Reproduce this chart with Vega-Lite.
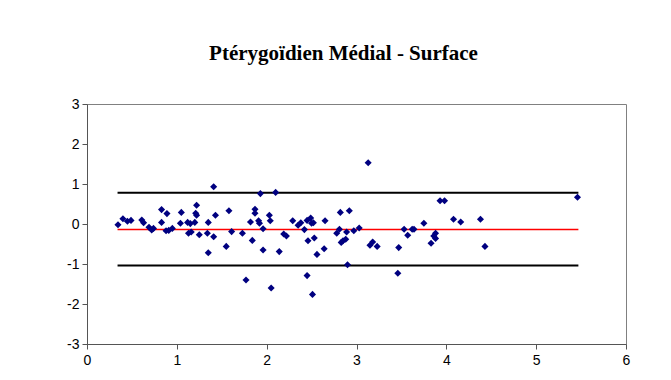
{
  "$schema": "https://vega.github.io/schema/vega-lite/v6.json",
  "autosize": "none",
  "width": 539,
  "height": 240,
  "padding": {"left": 87, "top": 104, "right": 45, "bottom": 36},
  "background": "white",
  "title": {
    "text": "Ptérygoïdien Médial - Surface",
    "font": "Liberation Serif",
    "fontSize": 21,
    "fontWeight": "bold",
    "color": "black",
    "anchor": "middle",
    "dx": -13,
    "offset": 33
  },
  "config": {
    "view": {"stroke": "#808080", "strokeWidth": 1},
    "axis": {
      "grid": false,
      "title": null,
      "labelFont": "Liberation Sans",
      "labelFontSize": 14,
      "labelColor": "black",
      "labelOverlap": false,
      "labelFlush": false,
      "domainColor": "#555555",
      "tickColor": "#555555",
      "tickSize": 5
    }
  },
  "encoding": {
    "x": {"field": "x", "type": "quantitative", "scale": {"domain": [0, 6], "nice": false},
      "axis": {"values": [0,1,2,3,4,5,6], "labelExpr": "'' + datum.value", "labelPadding": 4, "labelOverlap": false, "labelFontSize": 14}},
    "y": {"field": "y", "type": "quantitative", "scale": {"domain": [-3, 3], "nice": false},
      "axis": {"values": [-3,-2,-1,0,1,2,3], "labelExpr": "'' + datum.value", "labelPadding": 3, "labelOverlap": false, "labelFontSize": 14}}
  },
  "layer": [
    {
      "data": {"values": [
        {"series": "upper", "x": 0.34, "y": 0.78},
        {"series": "upper", "x": 5.47, "y": 0.78},
        {"series": "lower", "x": 0.34, "y": -1.04},
        {"series": "lower", "x": 5.47, "y": -1.04}
      ]},
      "mark": {"type": "line", "color": "black", "strokeWidth": 2},
      "encoding": {"detail": {"field": "series"}}
    },
    {
      "data": {"values": [
        {"x": 0.34, "y": -0.14},
        {"x": 5.47, "y": -0.14}
      ]},
      "mark": {"type": "line", "color": "red", "strokeWidth": 1.5},
      "encoding": {}
    },
    {
      "data": {"values": [
        {"x": 0.345, "y": -0.02}, {"x": 0.40, "y": 0.13}, {"x": 0.45, "y": 0.07}, {"x": 0.49, "y": 0.09},
        {"x": 0.61, "y": 0.10}, {"x": 0.63, "y": 0.03}, {"x": 0.69, "y": -0.08}, {"x": 0.72, "y": -0.15},
        {"x": 0.74, "y": -0.11}, {"x": 0.83, "y": 0.36}, {"x": 0.83, "y": 0.04}, {"x": 0.89, "y": 0.26},
        {"x": 0.88, "y": -0.17}, {"x": 0.91, "y": -0.16}, {"x": 0.95, "y": -0.11}, {"x": 1.05, "y": 0.29},
        {"x": 1.04, "y": 0.02}, {"x": 1.12, "y": 0.04}, {"x": 1.15, "y": 0.01}, {"x": 1.13, "y": -0.23},
        {"x": 1.16, "y": -0.20}, {"x": 1.22, "y": 0.47}, {"x": 1.21, "y": 0.27}, {"x": 1.22, "y": 0.22},
        {"x": 1.20, "y": 0.04}, {"x": 1.25, "y": -0.27}, {"x": 1.35, "y": 0.04}, {"x": 1.34, "y": -0.23},
        {"x": 1.35, "y": -0.72}, {"x": 1.41, "y": -0.32}, {"x": 1.41, "y": 0.93}, {"x": 1.43, "y": 0.22},
        {"x": 1.58, "y": 0.33}, {"x": 1.61, "y": -0.19}, {"x": 1.55, "y": -0.56}, {"x": 1.73, "y": -0.23},
        {"x": 1.77, "y": -1.40}, {"x": 1.84, "y": -0.41}, {"x": 1.82, "y": 0.05}, {"x": 1.87, "y": 0.37},
        {"x": 1.87, "y": 0.27}, {"x": 1.91, "y": 0.08}, {"x": 1.92, "y": 0.02}, {"x": 1.93, "y": 0.76},
        {"x": 1.96, "y": -0.12}, {"x": 1.96, "y": -0.65}, {"x": 2.03, "y": 0.22}, {"x": 2.04, "y": 0.08},
        {"x": 2.10, "y": 0.79}, {"x": 2.05, "y": -1.60}, {"x": 2.14, "y": -0.69}, {"x": 2.19, "y": -0.25},
        {"x": 2.22, "y": -0.30}, {"x": 2.29, "y": 0.08}, {"x": 2.35, "y": -0.03}, {"x": 2.38, "y": 0.03},
        {"x": 2.42, "y": -0.14}, {"x": 2.45, "y": 0.09}, {"x": 2.49, "y": 0.15}, {"x": 2.50, "y": 0.02},
        {"x": 2.52, "y": 0.03}, {"x": 2.46, "y": -0.42}, {"x": 2.53, "y": -0.35}, {"x": 2.56, "y": -0.76},
        {"x": 2.45, "y": -1.29}, {"x": 2.51, "y": -1.76}, {"x": 2.65, "y": 0.08}, {"x": 2.64, "y": -0.62},
        {"x": 2.81, "y": -0.13}, {"x": 2.78, "y": -0.23}, {"x": 2.82, "y": 0.29}, {"x": 2.92, "y": 0.33},
        {"x": 2.83, "y": -0.46}, {"x": 2.85, "y": -0.42}, {"x": 2.88, "y": -0.38}, {"x": 2.89, "y": -0.20},
        {"x": 2.90, "y": -1.02}, {"x": 2.97, "y": -0.17}, {"x": 3.03, "y": -0.10}, {"x": 3.13, "y": 1.53},
        {"x": 3.18, "y": -0.45}, {"x": 3.15, "y": -0.53}, {"x": 3.23, "y": -0.56}, {"x": 3.46, "y": -1.23},
        {"x": 3.47, "y": -0.59}, {"x": 3.53, "y": -0.13}, {"x": 3.57, "y": -0.28}, {"x": 3.62, "y": -0.13},
        {"x": 3.64, "y": -0.13}, {"x": 3.75, "y": 0.02}, {"x": 3.93, "y": 0.58}, {"x": 3.98, "y": 0.58},
        {"x": 3.88, "y": -0.23}, {"x": 3.86, "y": -0.30}, {"x": 3.88, "y": -0.36}, {"x": 3.83, "y": -0.48},
        {"x": 4.08, "y": 0.12}, {"x": 4.16, "y": 0.05}, {"x": 4.38, "y": 0.12}, {"x": 4.43, "y": -0.56},
        {"x": 5.46, "y": 0.67}
      ]},
      "mark": {"type": "point", "shape": "diamond", "filled": true, "color": "#000080", "size": 50, "opacity": 1},
      "encoding": {}
    }
  ]
}
